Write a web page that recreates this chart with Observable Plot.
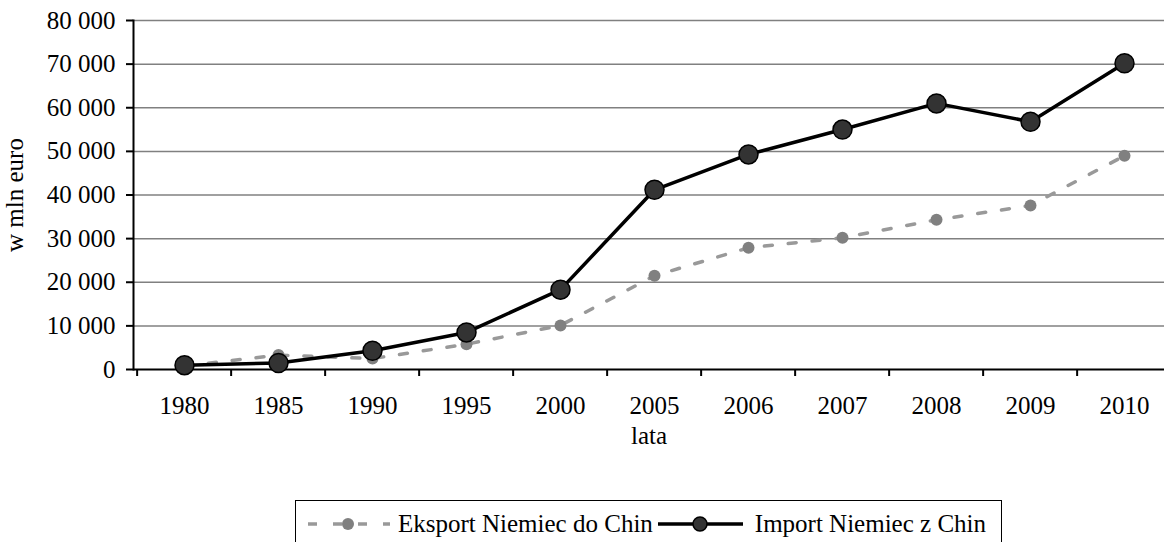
<!DOCTYPE html>
<html>
<head>
<meta charset="utf-8">
<script src="https://cdn.jsdelivr.net/npm/d3@7"></script>
<script src="https://cdn.jsdelivr.net/npm/@observablehq/plot@0.6"></script>
<style>
  html, body { margin: 0; padding: 0; background: #fff; }
  body { font-family: "Liberation Serif", "Times New Roman", serif; width: 1164px; overflow: hidden; }
  #chart svg { overflow: visible; }
  .legend {
    margin-top: 30px; margin-left: 295px; width: 707px; height: 50px;
    border: 1px solid #000; box-sizing: border-box;
    display: flex; align-items: flex-start; padding-top: 9px;
    font-size: 25px; color: #000; white-space: nowrap;
  }
  .legend svg { display: block; }
  .legend .item { display: flex; align-items: center; }
</style>
</head>
<body>
<div id="chart"></div>
<div id="legend"></div>
<script>
const years = ["1980", "1985", "1990", "1995", "2000", "2005", "2006", "2007", "2008", "2009", "2010"];
const eksport = [800, 3300, 2500, 5800, 10100, 21500, 27900, 30200, 34300, 37600, 49000];
const importValues = [1000, 1500, 4300, 8500, 18300, 41200, 49300, 55000, 61000, 56800, 70200];
const seriesNames = ["Eksport Niemiec do Chin", "Import Niemiec z Chin"];
const yTicks = [0, 10000, 20000, 30000, 40000, 50000, 60000, 70000, 80000];
const xTitle = "lata";
const yTitle = "w mln euro";

const data = years.map((year, i) => ({year, eksport: eksport[i], import: importValues[i]}));
const fmt = d3.formatLocale({decimal: ",", thousands: "\u00a0", grouping: [3], currency: ["", ""]}).format(",");

const xRange = [133, 1175];
const halfStep = (xRange[1] - xRange[0]) / years.length / 2;

const chart = Plot.plot({
  width: 1164,
  height: 470,
  marginTop: 20,
  marginBottom: 101,
  marginLeft: 133,
  marginRight: 0,
  style: {fontFamily: "'Liberation Serif', 'Times New Roman', serif", fontSize: "25px", color: "#000", background: "#fff", overflow: "visible"},
  x: {type: "point", domain: years, range: xRange, padding: 0.5},
  y: {domain: [0, 80000]},
  marks: [
    Plot.gridY(yTicks.filter(d => d > 0), {stroke: "#808080", strokeOpacity: 1, strokeWidth: 1.5}),
    Plot.ruleY([0], {stroke: "#000", strokeWidth: 2}),
    Plot.frame({anchor: "left", stroke: "#000", strokeWidth: 2}),
    Plot.axisY({ticks: yTicks, tickSize: 7, tickPadding: 11, tickFormat: fmt, strokeWidth: 2,
      label: yTitle, labelAnchor: "center", labelArrow: "none", labelOffset: 128}),
    Plot.axisX({ticks: years, tickSize: 7, tickFormat: () => "", strokeWidth: 2, dx: -halfStep, label: null}),
    Plot.axisX({ticks: years, tickSize: 0, tickPadding: 27, label: xTitle, labelAnchor: "center", labelArrow: "none", labelOffset: 74}),
    Plot.line(data, {x: "year", y: "eksport", stroke: "#999999", strokeWidth: 3.5, strokeDasharray: "8,16"}),
    Plot.dot(data, {x: "year", y: "eksport", r: 6, fill: "#808080", stroke: "none"}),
    Plot.line(data, {x: "year", y: "import", stroke: "#000", strokeWidth: 3.5}),
    Plot.dot(data, {x: "year", y: "import", r: 9.5, fill: "#333333", stroke: "#000", strokeWidth: 1.5})
  ]
});
document.getElementById("chart").append(chart);

// legend
const legend = document.getElementById("legend");
legend.className = "legend";
function swatch(width, dotX, lineStart, lineEnd, stroke, dash, r, fill, dotStroke) {
  const ns = "http://www.w3.org/2000/svg";
  const s = document.createElementNS(ns, "svg");
  s.setAttribute("width", width); s.setAttribute("height", 28);
  const l = document.createElementNS(ns, "line");
  l.setAttribute("x1", lineStart); l.setAttribute("x2", lineEnd);
  l.setAttribute("y1", 14); l.setAttribute("y2", 14);
  l.setAttribute("stroke", stroke); l.setAttribute("stroke-width", 3.5);
  if (dash) l.setAttribute("stroke-dasharray", dash);
  s.append(l);
  const c = document.createElementNS(ns, "circle");
  c.setAttribute("cx", dotX); c.setAttribute("cy", 14); c.setAttribute("r", r);
  c.setAttribute("fill", fill);
  if (dotStroke) { c.setAttribute("stroke", dotStroke); c.setAttribute("stroke-width", 1.5); }
  s.append(c);
  return s;
}
const item1 = document.createElement("div"); item1.className = "item";
const sw1 = swatch(100, 52, 12, 94, "#999999", "9,16", 6, "#808080", null);
sw1.style.marginRight = "2px";
const t1 = document.createElement("span"); t1.textContent = seriesNames[0];
item1.append(sw1, t1);
const item2 = document.createElement("div"); item2.className = "item";
const sw2 = swatch(102, 47, 5, 90, "#000", null, 7, "#333333", "#000");
const t2 = document.createElement("span"); t2.textContent = seriesNames[1];
item2.append(sw2, t2);
legend.append(item1, item2);
</script>
</body>
</html>
